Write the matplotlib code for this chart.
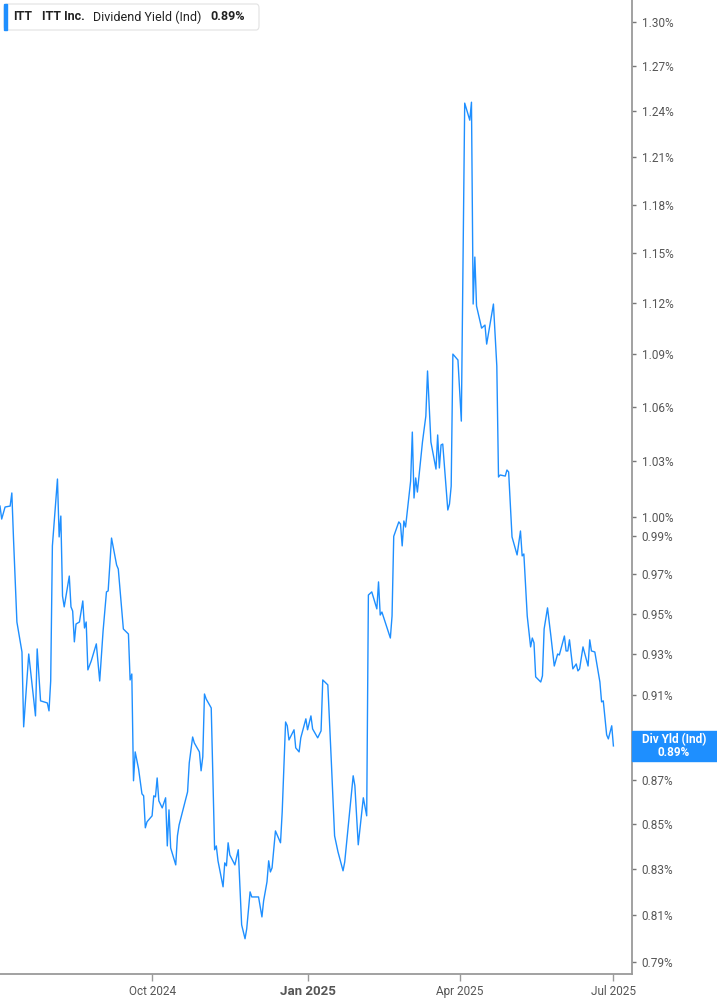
import matplotlib
matplotlib.use("Agg")
import matplotlib.pyplot as plt
import matplotlib.dates as mdates
from matplotlib.patches import FancyBboxPatch, Rectangle
from matplotlib.ticker import NullLocator, NullFormatter
import pandas as pd

# ITT Inc. indicated dividend yield (%)
dates = [
    "2024-07-03", "2024-07-04", "2024-07-06", "2024-07-09", "2024-07-10", "2024-07-11",
    "2024-07-13", "2024-07-16", "2024-07-17", "2024-07-20", "2024-07-24", "2024-07-25",
    "2024-07-27", "2024-07-31", "2024-08-01", "2024-08-02", "2024-08-03", "2024-08-06",
    "2024-08-07", "2024-08-08", "2024-08-09", "2024-08-10", "2024-08-13", "2024-08-14",
    "2024-08-15", "2024-08-16", "2024-08-17", "2024-08-19", "2024-08-21", "2024-08-22",
    "2024-08-23", "2024-08-24", "2024-08-26", "2024-08-29", "2024-08-31", "2024-09-02",
    "2024-09-04", "2024-09-05", "2024-09-07", "2024-09-10", "2024-09-11", "2024-09-14",
    "2024-09-17", "2024-09-18", "2024-09-19", "2024-09-20", "2024-09-21", "2024-09-23",
    "2024-09-25", "2024-09-26", "2024-09-27", "2024-09-28", "2024-10-01", "2024-10-02",
    "2024-10-03", "2024-10-04", "2024-10-05", "2024-10-07", "2024-10-09", "2024-10-10",
    "2024-10-11", "2024-10-12", "2024-10-15", "2024-10-16", "2024-10-17", "2024-10-22",
    "2024-10-23", "2024-10-25", "2024-10-26", "2024-10-29", "2024-10-30", "2024-10-31",
    "2024-11-01", "2024-11-02", "2024-11-05", "2024-11-07", "2024-11-08", "2024-11-09",
    "2024-11-12", "2024-11-13", "2024-11-14", "2024-11-15", "2024-11-16", "2024-11-19",
    "2024-11-21", "2024-11-23", "2024-11-25", "2024-11-26", "2024-11-28", "2024-11-29",
    "2024-12-03", "2024-12-05", "2024-12-06", "2024-12-08", "2024-12-09", "2024-12-10",
    "2024-12-11", "2024-12-13", "2024-12-16", "2024-12-17", "2024-12-19", "2024-12-20",
    "2024-12-21", "2024-12-24", "2024-12-25", "2024-12-27", "2024-12-28", "2024-12-31",
    "2025-01-01", "2025-01-03", "2025-01-04", "2025-01-07", "2025-01-09", "2025-01-10",
    "2025-01-13", "2025-01-15", "2025-01-17", "2025-01-19", "2025-01-22", "2025-01-23",
    "2025-01-28", "2025-01-29", "2025-01-31", "2025-02-03", "2025-02-05", "2025-02-06",
    "2025-02-08", "2025-02-11", "2025-02-12", "2025-02-13", "2025-02-14", "2025-02-19",
    "2025-02-20", "2025-02-21", "2025-02-24", "2025-02-25", "2025-02-26", "2025-02-27",
    "2025-02-28", "2025-03-03", "2025-03-04", "2025-03-05", "2025-03-06", "2025-03-07",
    "2025-03-10", "2025-03-12", "2025-03-13", "2025-03-15", "2025-03-18", "2025-03-19",
    "2025-03-20", "2025-03-21", "2025-03-22", "2025-03-25", "2025-03-26", "2025-03-27",
    "2025-03-28", "2025-03-31", "2025-04-02", "2025-04-04", "2025-04-07", "2025-04-08",
    "2025-04-09", "2025-04-10", "2025-04-11", "2025-04-14", "2025-04-16", "2025-04-17",
    "2025-04-21", "2025-04-23", "2025-04-24", "2025-04-25", "2025-04-28", "2025-04-29",
    "2025-04-30", "2025-05-02", "2025-05-05", "2025-05-07", "2025-05-08", "2025-05-09",
    "2025-05-11", "2025-05-13", "2025-05-14", "2025-05-15", "2025-05-16", "2025-05-19",
    "2025-05-20", "2025-05-21", "2025-05-23", "2025-05-25", "2025-05-27", "2025-05-29",
    "2025-05-30", "2025-06-02", "2025-06-03", "2025-06-04", "2025-06-05", "2025-06-07",
    "2025-06-09", "2025-06-10", "2025-06-11", "2025-06-13", "2025-06-16", "2025-06-17",
    "2025-06-18", "2025-06-20", "2025-06-23", "2025-06-24", "2025-06-25", "2025-06-27",
    "2025-06-28", "2025-06-30", "2025-07-01",
]

yield_pct = [
    1.0058, 0.9989, 1.0053, 1.0058, 1.0128, 0.9884,
    0.9459, 0.9310, 0.8948, 0.9300, 0.9000, 0.9325,
    0.9072, 0.9062, 0.9024, 0.9168, 0.9848, 1.0203,
    0.9895, 1.0005, 0.9590, 0.9535, 0.9692, 0.9535,
    0.9514, 0.9360, 0.9449, 0.9459, 0.9565, 0.9429,
    0.9459, 0.9222, 0.9266, 0.9350, 0.9168, 0.9414,
    0.9611, 0.9616, 0.9889, 0.9749, 0.9728, 0.9424,
    0.9399, 0.9173, 0.9202, 0.8696, 0.8830, 0.8751,
    0.8636, 0.8627, 0.8482, 0.8509, 0.8536, 0.8627,
    0.8622, 0.8709, 0.8604, 0.8572, 0.8618, 0.8401,
    0.8563, 0.8392, 0.8317, 0.8446, 0.8495, 0.8645,
    0.8779, 0.8900, 0.8872, 0.8830, 0.8742, 0.8807,
    0.9105, 0.9081, 0.9038, 0.8384, 0.8401, 0.8335,
    0.8221, 0.8326, 0.8313, 0.8415, 0.8361, 0.8317,
    0.8384, 0.8057, 0.7998, 0.8040, 0.8199, 0.8177,
    0.8177, 0.8091, 0.8160, 0.8243, 0.8335, 0.8286,
    0.8304, 0.8468, 0.8415, 0.8554, 0.8971, 0.8953,
    0.8886, 0.8934, 0.8849, 0.8830, 0.8896, 0.8986,
    0.8934, 0.9000, 0.8938, 0.8896, 0.8929, 0.9173,
    0.9149, 0.8797, 0.8446, 0.8375, 0.8291, 0.8330,
    0.8719, 0.8673, 0.8406, 0.8618, 0.8536, 0.9595,
    0.9611, 0.9525, 0.9662, 0.9494, 0.9509, 0.9379,
    0.9489, 0.9898, 0.9974, 0.9963, 0.9848, 0.9979,
    0.9947, 1.0192, 1.0460, 1.0101, 1.0209, 1.0133,
    1.0405, 1.0549, 1.0804, 1.0405, 1.0257, 1.0444,
    1.0263, 1.0389, 1.0394, 1.0037, 1.0069, 1.0165,
    1.0901, 1.0867, 1.0521, 1.2451, 1.2339, 1.2457,
    1.1194, 1.1476, 1.1182, 1.1052, 1.1070, 1.0959,
    1.1194, 1.0832, 1.0214, 1.0225, 1.0219, 1.0252,
    1.0241, 0.9895, 0.9801, 0.9926, 0.9796, 0.9806,
    0.9489, 0.9335, 0.9379, 0.9355, 0.9188, 0.9163,
    0.9193, 0.9424, 0.9530, 0.9389, 0.9241, 0.9300,
    0.9295, 0.9389, 0.9315, 0.9315, 0.9370, 0.9227,
    0.9251, 0.9217, 0.9227, 0.9335, 0.9241, 0.9370,
    0.9315, 0.9310, 0.9163, 0.9067, 0.9072, 0.8910,
    0.8891, 0.8953, 0.8858,
]

y_ticks = [1.30, 1.27, 1.24, 1.21, 1.18, 1.15, 1.12, 1.09, 1.06, 1.03, 1.00,
           0.99, 0.97, 0.95, 0.93, 0.91, 0.89, 0.87, 0.85, 0.83, 0.81, 0.79]
x_ticks = ["2024-10-01", "2025-01-01", "2025-04-01", "2025-07-01"]
x_labels = ["Oct 2024", "Jan 2025", "Apr 2025", "Jul 2025"]

ticker = "ITT"
company = "ITT Inc."
metric = "Dividend Yield (Ind)"
short_metric = "Div Yld (Ind)"

BLUE = "#1e8fff"
GREY = "#9a9a9a"
TEXT = "#555555"
FONT = ["Roboto", "DejaVu Sans"]

W, H = 717, 1005
fig = plt.figure(figsize=(W / 100, H / 100), dpi=100)
ax = fig.add_axes([0, 31 / H, 632 / W, 974 / H])

x = pd.to_datetime(dates)
ax.plot(x, yield_pct, color=BLUE, lw=1.0)

ax.set_yscale("log")
ax.set_ylim(0.785, 1.315)
ax.set_xlim(pd.Timestamp("2024-07-03"), pd.Timestamp("2025-07-12"))

last = yield_pct[-1]
last_lbl = f"{last:.2f}%"

# the last-value flag covers its own tick label, so leave that one blank
ax.yaxis.tick_right()
ax.set_yticks(y_ticks)
ax.set_yticklabels(["" if f"{t:.2f}%" == last_lbl else f"{t:.2f}%" for t in y_ticks])
ax.yaxis.set_minor_locator(NullLocator())
ax.yaxis.set_minor_formatter(NullFormatter())
ax.tick_params(axis="y", which="major", length=3, width=1, color="#777777",
               labelsize=8.5, labelcolor=TEXT, pad=4)

ax.set_xticks(pd.to_datetime(x_ticks))
ax.set_xticklabels(x_labels)
ax.tick_params(axis="x", length=5, width=1, color=GREY, labelsize=8.5,
               labelcolor=TEXT, pad=3)
for lab in ax.get_xticklabels():
    if lab.get_text().startswith("Jan"):
        lab.set_fontweight("bold")
        lab.set_fontsize(9.5)

for side in ("top", "left"):
    ax.spines[side].set_visible(False)
for side in ("right", "bottom"):
    ax.spines[side].set_color(GREY)
    ax.spines[side].set_linewidth(1.3)

for lab in ax.get_xticklabels() + ax.get_yticklabels():
    lab.set_family(FONT)

# last value flag on the right axis
y_disp = ax.transData.transform((mdates.date2num(x[-1]), last))[1]
yc = y_disp / fig.bbox.height
fig.patches.append(Rectangle((632 / W, yc - 15 / H), (W - 632) / W, 30 / H,
                             transform=fig.transFigure, color=BLUE, zorder=5))
fig.text(674 / W, yc + 6 / H, short_metric, color="white", fontsize=8.5,
         fontweight="bold", ha="center", va="center", zorder=6, family=FONT)
fig.text(674 / W, yc - 7 / H, last_lbl, color="white", fontsize=8.5,
         fontweight="bold", ha="center", va="center", zorder=6, family=FONT)

# legend box at top left
fig.patches.append(FancyBboxPatch((4 / W, 1 - 30 / H), 255 / W, 26 / H,
                                  boxstyle="round,pad=0,rounding_size=0.004",
                                  transform=fig.transFigure, facecolor="white",
                                  edgecolor="#e2e2e2", lw=0.8, zorder=5))
fig.patches.append(Rectangle((4 / W, 1 - 30 / H), 3 / W, 26 / H,
                             transform=fig.transFigure, color=BLUE, zorder=6))
ly = 1 - 17 / H
for xpx, txt, wt in [(13, ticker, "bold"), (42, company, "bold"),
                     (93, metric, "normal"), (210, last_lbl, "bold")]:
    fig.text(xpx / W, ly, txt, fontsize=9, fontweight=wt, color="#222222",
             ha="left", va="center", zorder=7, family=FONT)

fig.savefig("out.png", dpi=100)
